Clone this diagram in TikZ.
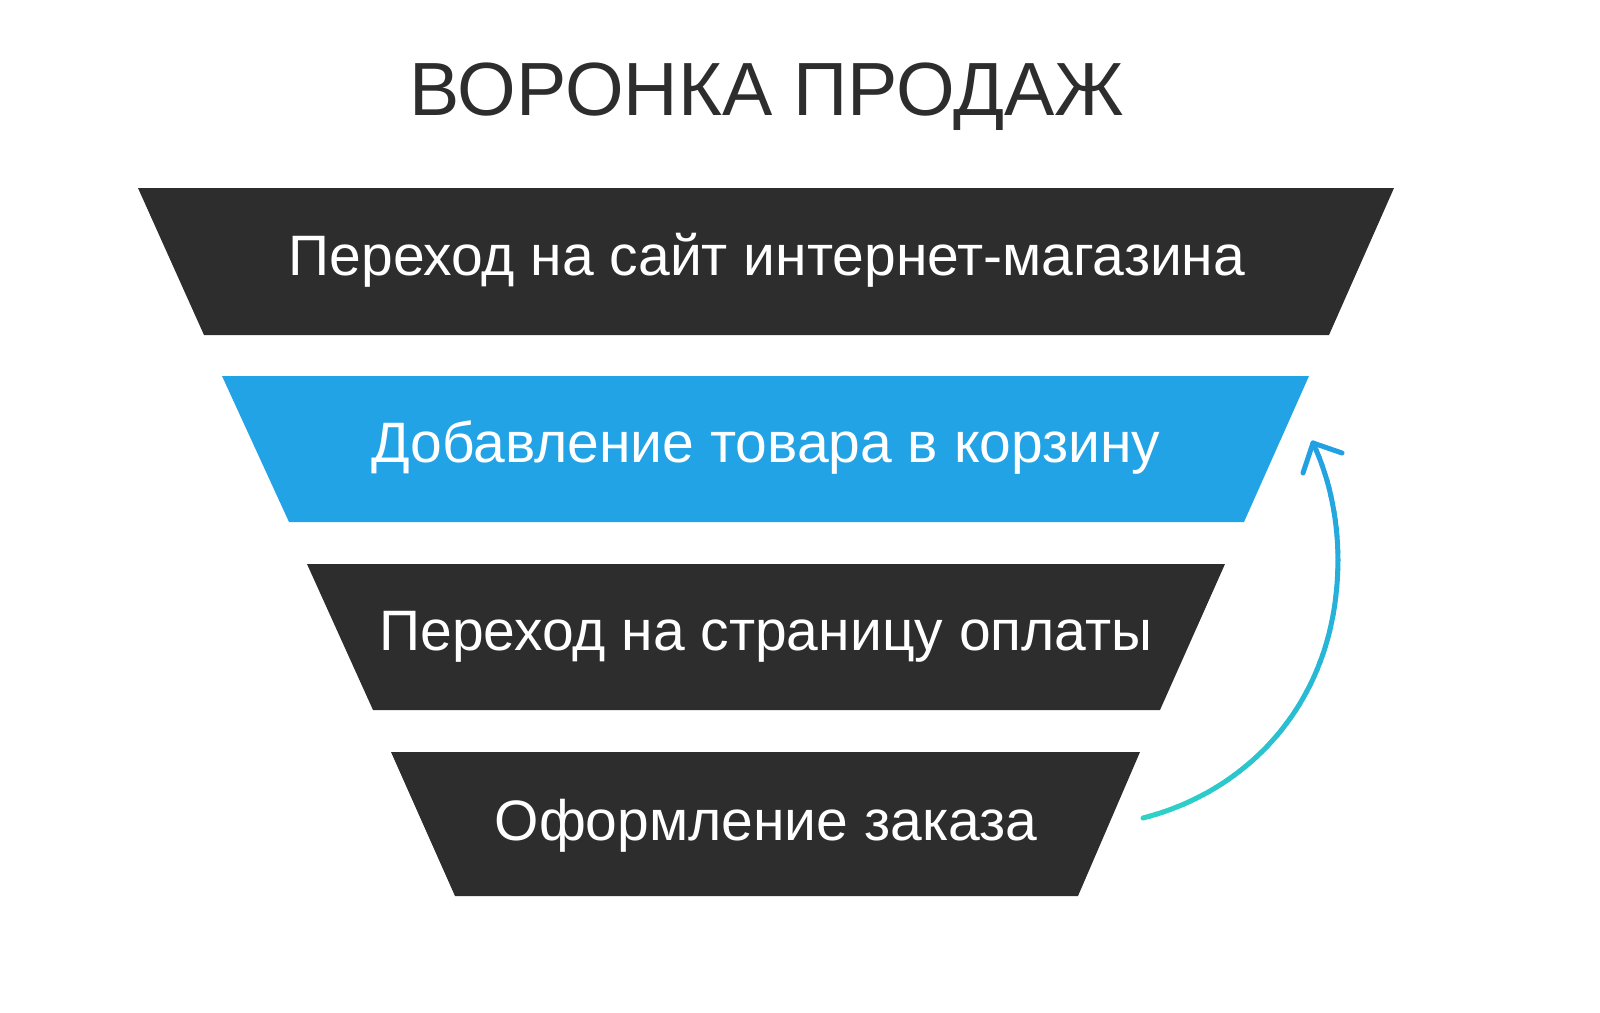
\documentclass[tikz,border=0pt]{standalone}
\usepackage{fontspec}
\setmainfont{Liberation Sans}
\definecolor{darkbox}{HTML}{2D2D2D}
\definecolor{bluebox}{HTML}{22A3E5}
\definecolor{arrowtop}{HTML}{22A0E4}
\definecolor{arrowbot}{HTML}{2ED3C6}
\begin{document}
\begin{tikzpicture}[x=0.5pt,y=-0.5pt,
  lbl/.style={text=white,font=\fontsize{28.5}{34}\selectfont,anchor=base,inner sep=0pt},
  ttl/.style={text=darkbox,font=\fontsize{37.7}{44}\selectfont,anchor=base,inner sep=0pt},
  arrowline/.style={line width=2.5pt,line cap=round}]
\useasboundingbox (0,0) rectangle (1600,1012);
% funnel levels
\fill[darkbox] (138,188) -- (1394,188) -- (1329,335) -- (204,335) -- cycle;
\fill[bluebox] (222,376) -- (1309,376) -- (1244,522) -- (289,522) -- cycle;
\fill[darkbox] (307,564) -- (1225,564) -- (1160,710) -- (373,710) -- cycle;
\fill[darkbox] (391,752) -- (1140,752) -- (1078,896) -- (455,896) -- cycle;
\node[ttl] (title) at (767,115) {ВОРОНКА ПРОДАЖ};
\node[lbl] (l1) at (767,275) {Переход на сайт интернет-магазина};
\node[lbl] (l2) at (766,462) {Добавление товара в корзину};
\node[lbl] (l3) at (766,650) {Переход на страницу оплаты};
\node[lbl] (l4) at (766,840) {Оформление заказа};
% gradient arrow, drawn as two Bezier pieces in short coloured steps
\coordinate (as) at (1143,818);
\coordinate (ae) at (1313,443);
\foreach \pax/\pay/\pbx/\pby/\pcx/\pcy/\pdx/\pdy/\cs/\ce/\nn in
   {1143/818/1247/792/1338/702/1338/560/0/75/45,
    1338/560/1338/520/1330/479/1313/443/75/100/15}{
  \foreach \i in {1,...,\nn}{
    \pgfmathsetmacro{\ta}{(\i-1)/\nn}
    \pgfmathsetmacro{\tb}{\i/\nn}
    \pgfmathsetmacro{\xa}{(1-\ta)^3*\pax+3*(1-\ta)^2*\ta*\pbx+3*(1-\ta)*\ta^2*\pcx+\ta^3*\pdx}
    \pgfmathsetmacro{\ya}{(1-\ta)^3*\pay+3*(1-\ta)^2*\ta*\pby+3*(1-\ta)*\ta^2*\pcy+\ta^3*\pdy}
    \pgfmathsetmacro{\xb}{(1-\tb)^3*\pax+3*(1-\tb)^2*\tb*\pbx+3*(1-\tb)*\tb^2*\pcx+\tb^3*\pdx}
    \pgfmathsetmacro{\yb}{(1-\tb)^3*\pay+3*(1-\tb)^2*\tb*\pby+3*(1-\tb)*\tb^2*\pcy+\tb^3*\pdy}
    \pgfmathsetmacro{\pc}{\cs+(\ce-\cs)*\ta}
    \draw[arrowline,color=arrowtop!\pc!arrowbot] (\xa,\ya) -- (\xb,\yb);
  }
}
\draw[arrowline,line join=round,arrowtop] (1303,473) -- (ae) -- (1342,453);
\end{tikzpicture}
\end{document}
